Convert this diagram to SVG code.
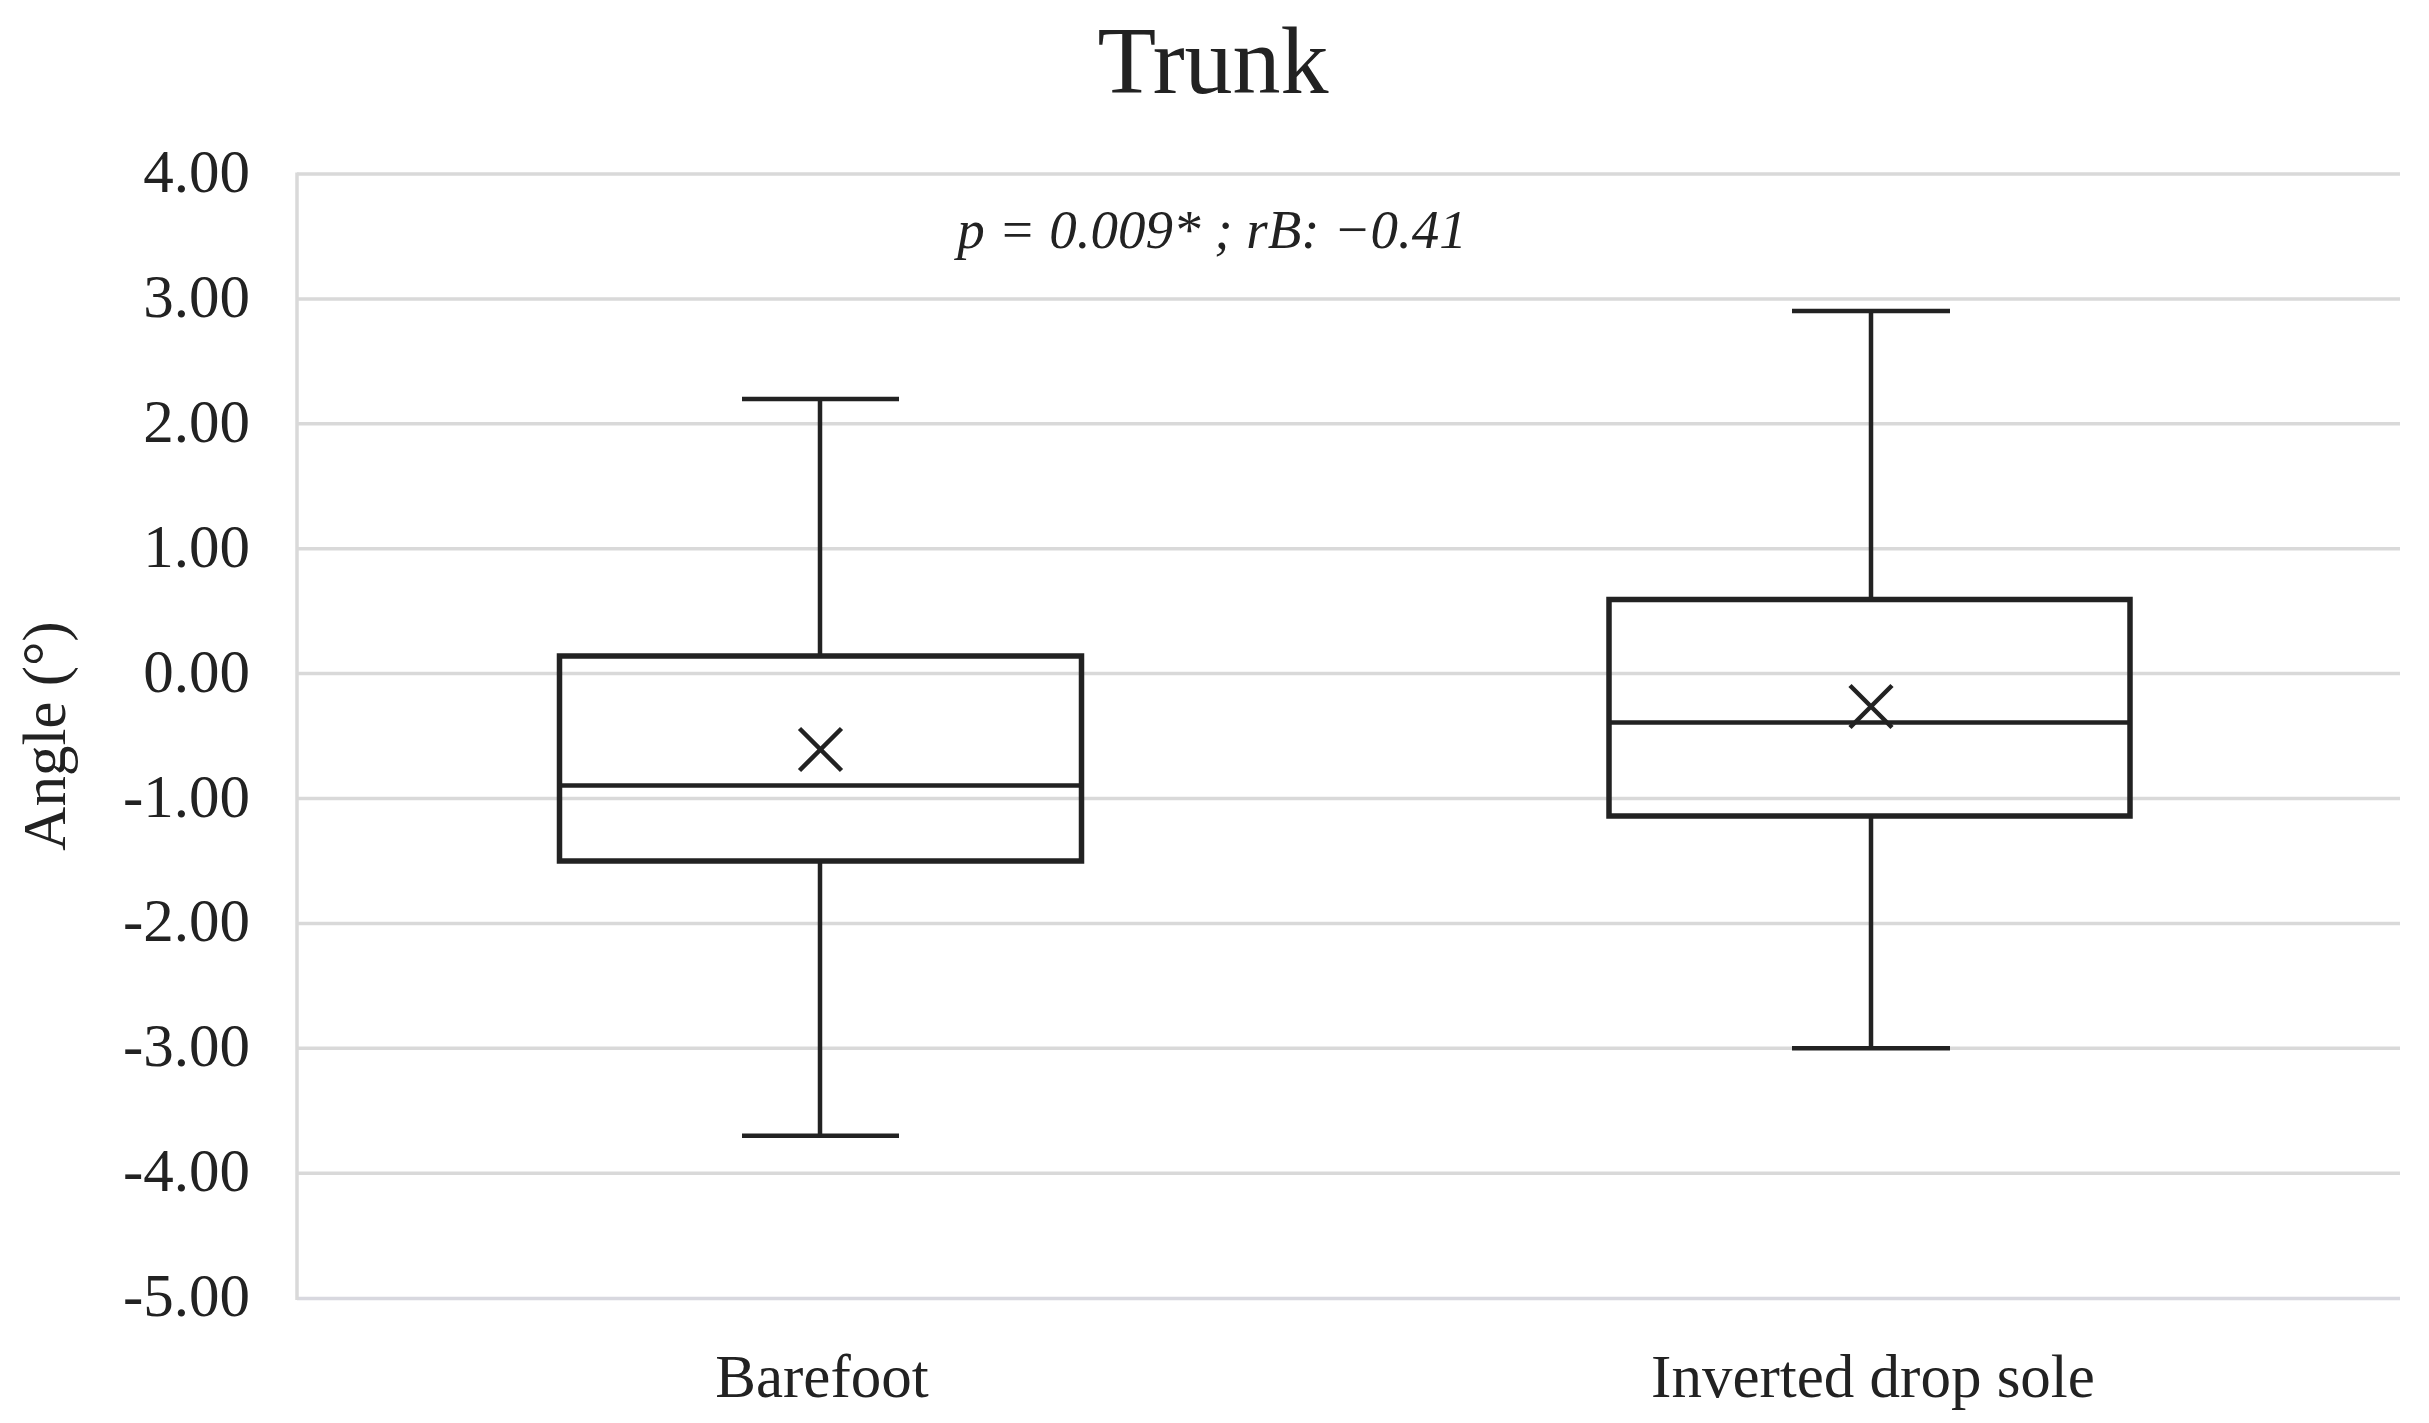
<svg xmlns="http://www.w3.org/2000/svg" width="2429" height="1423" viewBox="0 0 2429 1423">
<style>
.grid{stroke:#d9d9d9;stroke-width:3.5;fill:none}
.box{stroke:#222;stroke-width:5.5;fill:none}
.ln{stroke:#222;stroke-width:4.5;fill:none}
.tick{font-family:"Liberation Serif","Times New Roman",serif;font-size:61px;fill:#222;text-anchor:end}
.cat{font-family:"Liberation Serif","Times New Roman",serif;font-size:61px;fill:#222;text-anchor:middle}
</style>
<rect x="0" y="0" width="2429" height="1423" fill="#fff"/>
<g id="axes">
<line class="grid" x1="297" y1="174" x2="2400" y2="174"/>
<line class="grid" x1="297" y1="298.9" x2="2400" y2="298.9"/>
<line class="grid" x1="297" y1="423.8" x2="2400" y2="423.8"/>
<line class="grid" x1="297" y1="548.7" x2="2400" y2="548.7"/>
<line class="grid" x1="297" y1="673.6" x2="2400" y2="673.6"/>
<line class="grid" x1="297" y1="798.5" x2="2400" y2="798.5"/>
<line class="grid" x1="297" y1="923.4" x2="2400" y2="923.4"/>
<line class="grid" x1="297" y1="1048.3" x2="2400" y2="1048.3"/>
<line class="grid" x1="297" y1="1173.2" x2="2400" y2="1173.2"/>
<line class="grid" x1="297" y1="1298.5" x2="2400" y2="1298.5" style="stroke:#d8d8df"/>
<line class="grid" x1="297" y1="172.5" x2="297" y2="1300"/>
<text class="tick" x="250" y="192">4.00</text>
<text class="tick" x="250" y="317">3.00</text>
<text class="tick" x="250" y="442">2.00</text>
<text class="tick" x="250" y="567">1.00</text>
<text class="tick" x="250" y="692">0.00</text>
<text class="tick" x="250" y="817">-1.00</text>
<text class="tick" x="250" y="941">-2.00</text>
<text class="tick" x="250" y="1066">-3.00</text>
<text class="tick" x="250" y="1191">-4.00</text>
<text class="tick" x="250" y="1316">-5.00</text>
<text class="cat" x="0" y="0" transform="translate(65,736) rotate(-90)">Angle (°)</text>
</g>
<g id="title">
<text x="1213" y="93" style="font-family:'Liberation Serif','Times New Roman',serif;font-size:96px;fill:#222;text-anchor:middle">Trunk</text>
<text x="1212" y="248" style="font-family:'Liberation Serif','Times New Roman',serif;font-size:55px;font-style:italic;fill:#222;text-anchor:middle">p = 0.009* ; rB: −0.41</text>
</g>
<g id="barefoot">
<line class="ln" x1="820" y1="399" x2="820" y2="656"/>
<line class="ln" x1="820" y1="860" x2="820" y2="1135.7"/>
<line class="ln" x1="742" y1="399" x2="899" y2="399"/>
<line class="ln" x1="742" y1="1135.7" x2="899" y2="1135.7"/>
<rect class="box" x="559.5" y="656" width="522" height="205"/>
<line class="ln" x1="559.5" y1="785.5" x2="1081.5" y2="785.5"/>
<path class="ln" d="M799.5 728.5 L841.5 770.5 M841.5 728.5 L799.5 770.5"/>
<text class="cat" x="822" y="1397">Barefoot</text>
</g>
<g id="inverted">
<line class="ln" x1="1871" y1="311" x2="1871" y2="599"/>
<line class="ln" x1="1871" y1="816" x2="1871" y2="1048.3"/>
<line class="ln" x1="1792" y1="311" x2="1950" y2="311"/>
<line class="ln" x1="1792" y1="1048.3" x2="1950" y2="1048.3"/>
<rect class="box" x="1609" y="599.5" width="521" height="216.5"/>
<line class="ln" x1="1609" y1="722.5" x2="2130" y2="722.5"/>
<path class="ln" d="M1850 685.5 L1892 727.5 M1892 685.5 L1850 727.5"/>
<text class="cat" x="1873" y="1397">Inverted drop sole</text>
</g>
</svg>
